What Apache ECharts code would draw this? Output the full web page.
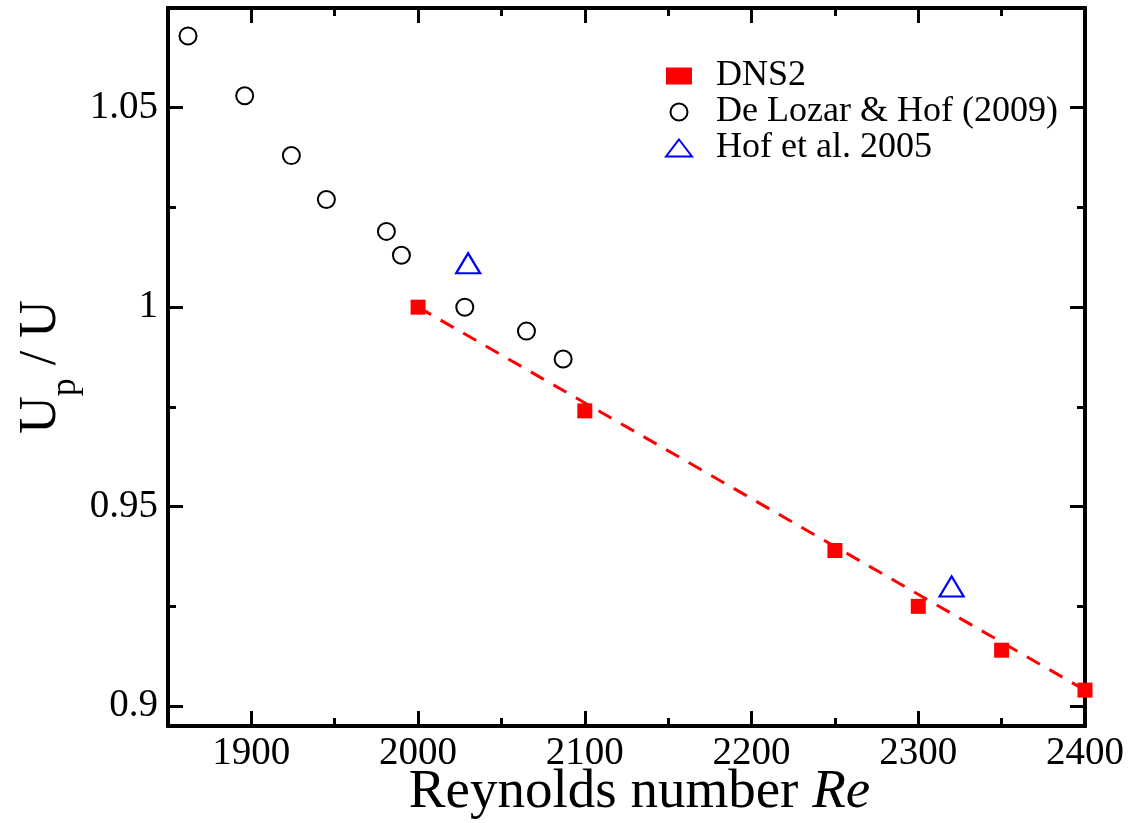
<!DOCTYPE html>
<html>
<head>
<meta charset="utf-8">
<script src="https://cdn.jsdelivr.net/npm/echarts@6/dist/echarts.min.js"></script>
<style>
  html, body { margin: 0; padding: 0; background: #fff; }
  #chart { width: 1138px; height: 823px; }
</style>
</head>
<body>
<div id="chart"></div>
<script>
// DNS2 (Re, Up/U)
const dnsRe = [2000, 2100, 2250, 2300, 2350, 2400];
const dnsUp = [1.0, 0.974, 0.939, 0.925, 0.914, 0.904];
// De Lozar & Hof (2009)
const lozarRe = [1862, 1896, 1924, 1945, 1981, 1990, 2028, 2065, 2087];
const lozarUp = [1.068, 1.053, 1.038, 1.027, 1.019, 1.013, 1.0, 0.994, 0.987];
// Hof et al. 2005
const hofRe = [2030, 2320];
const hofUp = [1.011, 0.930];
// dashed fit through DNS2
const fitRe = [2000, 2400];
const fitUp = [1.0, 0.904];

const xMajor = [1900, 2000, 2100, 2200, 2300, 2400];
const xMinor = [1950, 2050, 2150, 2250, 2350];
const yMajor = [0.9, 0.95, 1, 1.05];
const yMinor = [0.925, 0.975, 1.025];

const pairs = (xs, ys) => xs.map((x, i) => [x, ys[i]]);
const font = "Liberation Serif";

const chart = echarts.init(document.getElementById("chart"));

function xAxisDef(pos, ticks, len, labels) {
  return {
    type: "value",
    position: pos,
    min: 1850,
    max: 2400,
    axisLine: { show: true, onZero: false, lineStyle: { color: "#000", width: 4 } },
    axisTick: { inside: true, length: len, customValues: ticks, lineStyle: { color: "#000", width: 3 } },
    axisLabel: labels ? {
      customValues: ticks, fontFamily: font, fontSize: 39, color: "#000", margin: 8,
      formatter: v => String(v)
    } : { show: false },
    splitLine: { show: false }
  };
}
function yAxisDef(pos, ticks, len, labels) {
  return {
    type: "value",
    position: pos,
    min: 0.895,
    max: 1.075,
    axisLine: { show: true, onZero: false, lineStyle: { color: "#000", width: 4 } },
    axisTick: { inside: true, length: len, customValues: ticks, lineStyle: { color: "#000", width: 3 } },
    axisLabel: labels ? {
      customValues: ticks, fontFamily: font, fontSize: 39, color: "#000", margin: 10,
      formatter: v => String(v)
    } : { show: false },
    splitLine: { show: false }
  };
}

const xb = xAxisDef("bottom", xMajor, 15, true);
xb.name = "Reynolds number {i|Re}";
xb.nameLocation = "middle";
xb.nameGap = 39;
xb.nameMoveOverlap = false;
xb.nameTextStyle = {
  fontFamily: font, fontSize: 55, color: "#000", padding: [0, 0, 0, 26],
  rich: { i: { fontFamily: font, fontSize: 55, fontStyle: "italic", color: "#000" } }
};

const yl = yAxisDef("left", yMajor, 15, true);
yl.name = "{u|U}{s|p}{u| / U}";
yl.nameLocation = "middle";
yl.nameGap = 95;
yl.nameRotate = 90;
yl.nameMoveOverlap = false;
yl.nameTextStyle = {
  rich: {
    u: { fontFamily: font, fontSize: 52, color: "#000", lineHeight: 64, verticalAlign: "middle" },
    s: { fontFamily: font, fontSize: 36, color: "#000", lineHeight: 64, verticalAlign: "middle", padding: [50, 0, 0, 0] }
  }
};

chart.setOption({
  animation: false,
  grid: { left: 168, right: 53, top: 8, bottom: 97, outerBoundsMode: "none" },
  legend: {
    orient: "vertical",
    left: 660,
    top: 53,
    itemGap: 0,
    itemWidth: 26,
    itemHeight: 17,
    textStyle: { fontFamily: font, fontSize: 36, color: "#000", lineHeight: 36, padding: [0, 0, 0, 19] },
    data: ["DNS2", "De Lozar & Hof (2009)", "Hof et al. 2005"]
  },
  xAxis: [
    xb,
    xAxisDef("bottom", xMinor, 8, false),
    xAxisDef("top", xMajor, 15, false),
    xAxisDef("top", xMinor, 8, false)
  ],
  yAxis: [
    yl,
    yAxisDef("left", yMinor, 8, false),
    yAxisDef("right", yMajor, 15, false),
    yAxisDef("right", yMinor, 8, false)
  ],
  series: [
    {
      name: "fit",
      type: "line",
      data: pairs(fitRe, fitUp),
      symbol: "none",
      lineStyle: { color: "#ff0000", width: 3, type: [15, 11] },
      z: 2
    },
    {
      name: "DNS2",
      type: "scatter",
      data: pairs(dnsRe, dnsUp),
      symbol: "rect",
      symbolSize: 15,
      itemStyle: { color: "#ff0000", opacity: 1 },
      z: 3
    },
    {
      name: "De Lozar & Hof (2009)",
      type: "scatter",
      data: pairs(lozarRe, lozarUp),
      symbol: "circle",
      symbolSize: 17,
      itemStyle: { color: "rgba(255,255,255,0)", borderColor: "#000", borderWidth: 2, opacity: 1 },
      z: 3
    },
    {
      name: "Hof et al. 2005",
      type: "scatter",
      data: pairs(hofRe, hofUp),
      symbol: "triangle",
      symbolSize: [24, 20],
      itemStyle: { color: "rgba(255,255,255,0)", borderColor: "#0000ff", borderWidth: 2.2, opacity: 1 },
      z: 3
    }
  ]
});
</script>
</body>
</html>
